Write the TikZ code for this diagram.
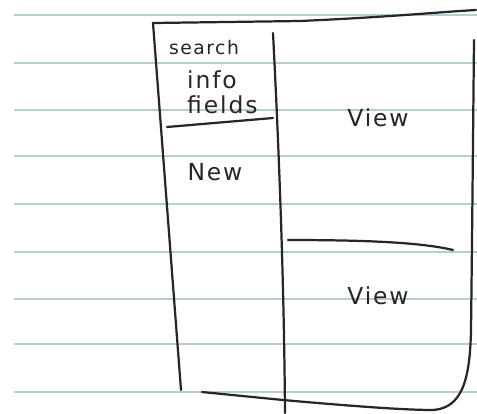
\documentclass[tikz,border=0pt]{standalone}
\usepackage{fontspec}
\usepackage{tikz}
\newfontfamily\handfont[LetterSpace=8]{DejaVu Sans}
\tikzset{
  px/.style={x=0.03cm,y=-0.03cm},
  rule/.style={draw=ruleblue,line width=0.9pt},
  ink/.style={draw=inkgray,line width=1.9pt,line cap=round,line join=round},
  hand/.style={text=inkgray,font=\handfont\fontsize{20}{20}\selectfont,inner sep=0pt}
}
\definecolor{ruleblue}{HTML}{B4CED6}
\definecolor{inkgray}{HTML}{262626}
\begin{document}
\begin{tikzpicture}[px]
  % page
  \fill[white] (0,0) rectangle (477,413);
  \useasboundingbox (0,0) rectangle (477,413);
  % ruled notebook lines
  \foreach \y in {15,63,110,156,204,252,299,344,392}
    \draw[rule] (14,\y) -- (477,\y);
  % outer frame
  \draw[ink] (153,23) -- (181,390);
  \draw[ink] (153,23) -- (300,21) .. controls (390,17) and (440,12) .. (476,10);
  \draw[ink] (474,40) .. controls (473,140) and (472,250) .. (471,330)
             .. controls (470,380) and (462,408) .. (433,410);
  \draw[ink] (202,392) -- (283,400) .. controls (340,405) and (400,410) .. (433,410);
  % column divider
  \draw[ink] (273,33) .. controls (279,150) and (284,280) .. (285,413);
  % rule under the search fields
  \draw[ink] (167,127) -- (273,118);
  % split between the two views
  \draw[ink] (288,240) .. controls (360,240) and (420,242) .. (453,250);
  % labels
  \node[hand,font=\handfont\fontsize{16}{16}\selectfont] (search) at (204,48) {search};
  \node[hand,anchor=base west] (info)   at (187,88) {info};
  \node[hand,anchor=base west] (fields) at (187,113) {fields};
  \node[hand] (new)    at (215,172) {New};
  \node[hand] (viewA)  at (378,118) {View};
  \node[hand] (viewB)  at (378,296) {View};
\end{tikzpicture}
\end{document}
